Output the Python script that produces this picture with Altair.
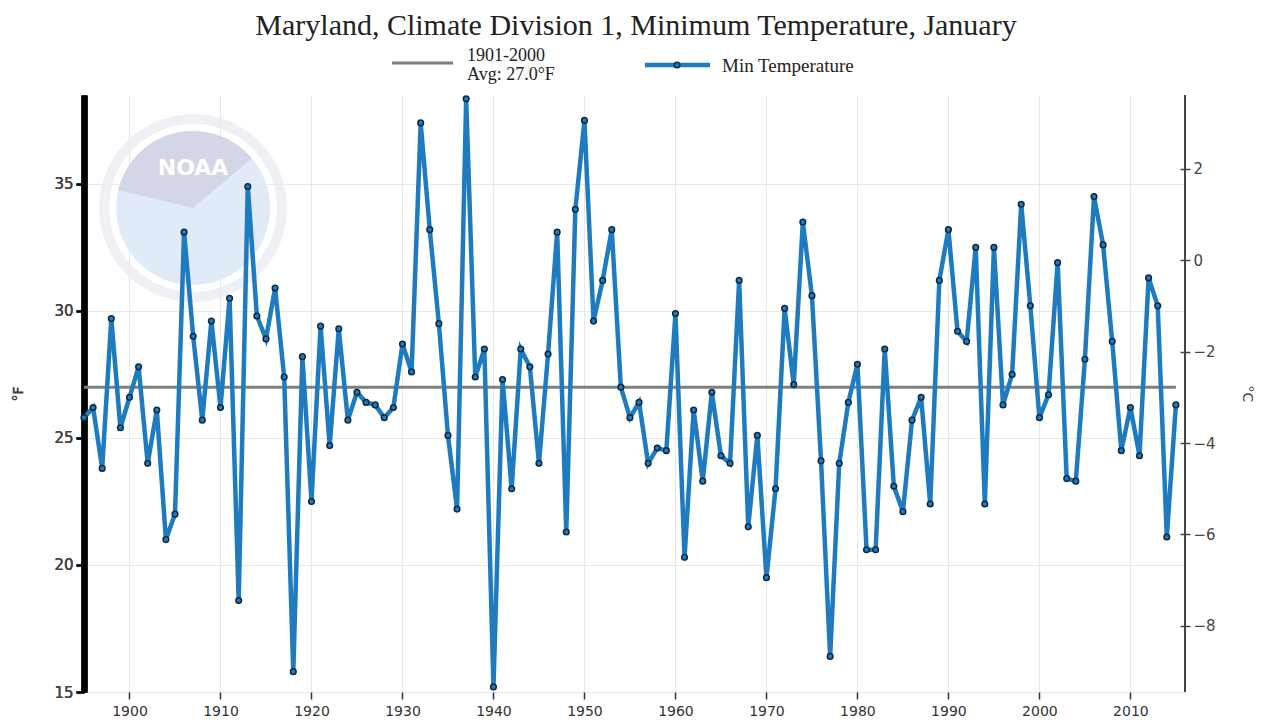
import altair as alt
import pandas as pd

# ---------------- data ----------------
first_year = 1895
min_temp_f = [
    25.8, 26.2, 23.8, 29.7, 25.4,                                  # 1895-1899
    26.6, 27.8, 24.0, 26.1, 21.0, 22.0, 33.1, 29.0, 25.7, 29.6,    # 1900-1909
    26.2, 30.5, 18.6, 34.9, 29.8, 28.9, 30.9, 27.4, 15.8, 28.2,    # 1910-1919
    22.5, 29.4, 24.7, 29.3, 25.7, 26.8, 26.4, 26.3, 25.8, 26.2,    # 1920-1929
    28.7, 27.6, 37.4, 33.2, 29.5, 25.1, 22.2, 38.35, 27.4, 28.5,   # 1930-1939
    15.2, 27.3, 23.0, 28.5, 27.8, 24.0, 28.3, 33.1, 21.3, 34.0,    # 1940-1949
    37.5, 29.6, 31.2, 33.2, 27.0, 25.8, 26.4, 24.0, 24.6, 24.5,    # 1950-1959
    29.9, 20.3, 26.1, 23.3, 26.8, 24.3, 24.0, 31.2, 21.5, 25.1,    # 1960-1969
    19.5, 23.0, 30.1, 27.1, 33.5, 30.6, 24.1, 16.4, 24.0, 26.4,    # 1970-1979
    27.9, 20.6, 20.6, 28.5, 23.1, 22.1, 25.7, 26.6, 22.4, 31.2,    # 1980-1989
    33.2, 29.2, 28.8, 32.5, 22.4, 32.5, 26.3, 27.5, 34.2, 30.2,    # 1990-1999
    25.8, 26.7, 31.9, 23.4, 23.3, 28.1, 34.5, 32.6, 28.8, 24.5,    # 2000-2009
    26.2, 24.3, 31.3, 30.2, 21.1, 26.3,                            # 2010-2015
]
years = list(range(first_year, first_year + len(min_temp_f)))

avg_value = [27.0]
avg_span = [1895, 2015]
avg_label = "1901-2000\nAvg: 27.0°F"
series_label = "Min Temperature"
title_text = "Maryland, Climate Division 1, Minimum Temperature, January"
x_domain = [1895, 2016]
x_ticks = list(range(1900, 2011, 10))
y_domain_f = [15, 38.5]
y_ticks_f = [15, 20, 25, 30, 35]
y_ticks_c = [-8, -6, -4, -2, 0, 2]
logo_text = "NOAA"

# ---------------- tables ----------------
df = pd.DataFrame({"year": years, "temp": min_temp_f})
df["tempC"] = (df["temp"] - 32) / 1.8
avg_df = pd.DataFrame({"year": [avg_span[0]], "year2": [avg_span[1]], "temp": avg_value})
y_domain_c = [(v - 32) / 1.8 for v in y_domain_f]

# ---------------- styling ----------------
W, H = 1101, 597
BLUE = "#1f7bc0"
MARK_EDGE = "#10283f"
GRAY = "#7f7f7f"
GRID = "#e8e8e8"
FONT = "DejaVu Sans"
SERIF = "Liberation Serif"

x_enc = alt.X(
    "year:Q",
    scale=alt.Scale(domain=x_domain, nice=False, zero=False),
    axis=alt.Axis(
        values=x_ticks, format="d", title=None, grid=True, gridColor=GRID,
        domain=False, tickColor="#333", tickSize=7, tickWidth=1.5,
        labelFont=FONT, labelFontSize=14, labelColor="#333", labelPadding=5,
    ),
)
y_enc = alt.Y(
    "temp:Q",
    scale=alt.Scale(domain=y_domain_f, nice=False, zero=False),
    axis=alt.Axis(
        orient="left", values=y_ticks_f, grid=True, gridColor=GRID,
        domain=True, domainColor="black", domainWidth=6,
        tickColor="black", tickSize=8, tickWidth=2,
        labelFont=FONT, labelFontSize=15, labelColor="#444", labelPadding=3,
        title="°F", titleFont=FONT, titleFontSize=14, titleFontWeight="normal",
        titleColor="#444", titleAngle=270, titleX=-66, titleY=H / 2,
        titleAlign="center", titleBaseline="middle",
    ),
)

one = pd.DataFrame({"k": [0]})

# watermark (decoration)
WX, WY = 109, 113
wm_ring = alt.Chart(one).mark_point(
    shape="circle", size=31684, filled=False, stroke="#e9ebf2", strokeWidth=10
).encode(x=alt.value(WX), y=alt.value(WY))
wm_disk = alt.Chart(one).mark_circle(size=23716, color="#e0ebf7", opacity=1).encode(
    x=alt.value(WX), y=alt.value(WY))
wm_top = alt.Chart(one).mark_arc(radius=77, theta=4.95, theta2=7.15, color="#d3d6e7").encode(
    x=alt.value(WX), y=alt.value(WY))
wm_text = alt.Chart(pd.DataFrame({"t": [logo_text]})).mark_text(
    font=FONT, fontSize=22, fontWeight="bold", color="white", align="center", baseline="middle"
).encode(text="t:N", x=alt.value(WX), y=alt.value(73))

avg_rule = alt.Chart(avg_df).mark_rule(color=GRAY, strokeWidth=3).encode(
    x=x_enc, x2="year2:Q", y=y_enc)
line = alt.Chart(df).mark_line(color=BLUE, strokeWidth=4.5).encode(x=x_enc, y=y_enc)
points = alt.Chart(df).mark_point(
    shape="circle", size=32, filled=True, fill=BLUE, stroke=MARK_EDGE, strokeWidth=1.5, opacity=1
).encode(x=x_enc, y=y_enc)

right_axis = alt.Chart(df).mark_point(opacity=0).encode(
    x=x_enc,
    y=alt.Y(
        "tempC:Q",
        scale=alt.Scale(domain=y_domain_c, nice=False, zero=False),
        axis=alt.Axis(
            orient="right", values=y_ticks_c, grid=False, domain=False, offset=-5,
            tickColor="#444", tickSize=10, tickWidth=1.5,
            labelFont=FONT, labelFontSize=15, labelColor="#444", labelPadding=3,
            title="°C", titleFont=FONT, titleFontSize=14, titleFontWeight="normal",
            titleColor="#444", titleAngle=90, titleX=66, titleY=H / 2,
            titleAlign="center", titleBaseline="middle",
        ),
    ),
)
right_domain = alt.Chart(one).mark_rule(color="#444", strokeWidth=2).encode(
    x=alt.value(W), y=alt.value(0), y2=alt.value(H))

# title and legend
title = alt.Chart(pd.DataFrame({"t": [title_text]})).mark_text(
    font=SERIF, fontSize=30, color="#222", align="center", baseline="middle"
).encode(text="t:N", x=alt.value(552), y=alt.value(-69))
leg_avg_line = alt.Chart(one).mark_rule(color=GRAY, strokeWidth=3).encode(
    x=alt.value(308), x2=alt.value(369), y=alt.value(-32))
leg_avg_text = alt.Chart(pd.DataFrame({"t": [avg_label]})).mark_text(
    font=SERIF, fontSize=18, color="#222", align="left", baseline="middle",
    lineBreak="\n", lineHeight=19,
).encode(text="t:N", x=alt.value(383), y=alt.value(-39))
leg_ser_line = alt.Chart(one).mark_rule(color=BLUE, strokeWidth=4.5).encode(
    x=alt.value(561), x2=alt.value(626), y=alt.value(-30))
leg_ser_point = alt.Chart(one).mark_point(
    shape="circle", size=32, filled=True, fill=BLUE, stroke=MARK_EDGE, strokeWidth=1.5, opacity=1
).encode(x=alt.value(593), y=alt.value(-30))
leg_ser_text = alt.Chart(pd.DataFrame({"t": [series_label]})).mark_text(
    font=SERIF, fontSize=19, color="#222", align="left", baseline="middle"
).encode(text="t:N", x=alt.value(638), y=alt.value(-29))

chart = alt.layer(
    wm_ring, wm_disk, wm_top, wm_text,
    avg_rule, line, points,
    right_axis, right_domain,
    title, leg_avg_line, leg_avg_text, leg_ser_line, leg_ser_point, leg_ser_text,
).resolve_scale(y="independent").properties(
    width=W, height=H,
    autosize=alt.AutoSizeParams(type="none"),
    padding={"left": 76, "top": 87, "right": 74, "bottom": 25},
    background="white",
).configure_view(stroke=None)

chart.save("out.html", embed_options={"renderer": "svg", "actions": False})
